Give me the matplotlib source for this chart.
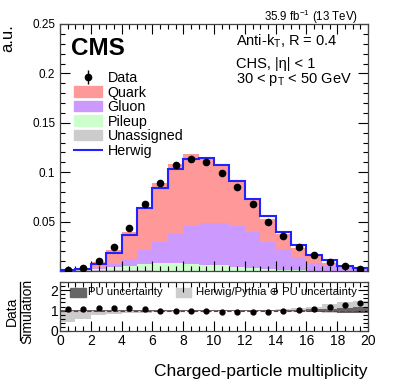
import numpy as np
import matplotlib
matplotlib.use("Agg")
import matplotlib.pyplot as plt
from matplotlib.ticker import MultipleLocator, FixedLocator
from matplotlib.patches import Rectangle
from matplotlib.lines import Line2D

plt.rcParams['font.family'] = ['Liberation Sans', 'DejaVu Sans']
plt.rcParams['mathtext.fontset'] = 'custom'
plt.rcParams['mathtext.rm'] = 'Liberation Sans'
plt.rcParams['mathtext.it'] = 'Liberation Sans:italic'

# ---------------- data ----------------
edges = np.arange(0, 21, 1)
centers = edges[:-1] + 0.5

data = [0.00077, 0.003, 0.010, 0.024, 0.044, 0.068, 0.089, 0.107, 0.113, 0.110,
        0.0996, 0.0847, 0.0678, 0.050, 0.0356, 0.0244, 0.016, 0.0095, 0.005, 0.0023]
data_err = [0.0002, 0.0003, 0.0005, 0.0007, 0.0009, 0.001, 0.001, 0.001, 0.001, 0.001,
            0.001, 0.001, 0.001, 0.0009, 0.0008, 0.0006, 0.0005, 0.0004, 0.0003, 0.0002]

unassigned = [0.0003, 0.0006, 0.0008, 0.0008, 0.0007, 0.0006, 0.0005, 0.0005, 0.0004, 0.0004,
              0.0003, 0.0003, 0.0003, 0.0002, 0.0002, 0.0002, 0.0001, 0.0001, 0.0001, 0.0001]
pileup = [0.0002, 0.0010, 0.0015, 0.0032, 0.0040, 0.0062, 0.0072, 0.0080, 0.0066, 0.0060,
          0.0057, 0.0037, 0.0025, 0.0015, 0.0010, 0.0005, 0.0003, 0.0002, 0.0001, 0.0001]
gluon = [0.0001, 0.0003, 0.0012, 0.0028, 0.0073, 0.0142, 0.0213, 0.0295, 0.0387, 0.0426,
         0.0430, 0.0417, 0.0362, 0.0278, 0.0208, 0.0135, 0.0081, 0.0047, 0.0032, 0.0013]
quark = [0.0001, 0.0009, 0.0052, 0.0142, 0.0270, 0.0430, 0.0600, 0.0700, 0.0723, 0.0660,
         0.0570, 0.0453, 0.0340, 0.0235, 0.0150, 0.0093, 0.0065, 0.0031, 0.0006, 0.0002]
herwig = [0.0006, 0.002, 0.0074, 0.018, 0.036, 0.064, 0.084, 0.103, 0.113, 0.114,
          0.107, 0.091, 0.073, 0.056, 0.039, 0.026, 0.016, 0.011, 0.005, 0.003]

pu_lo = [0.97, 0.97, 0.97, 0.97, 0.97, 0.97, 0.97, 0.97, 0.97, 0.97,
         0.97, 0.97, 0.97, 0.97, 0.97, 0.96, 0.94, 0.92, 0.90, 0.90]
pu_hi = [1.03, 1.03, 1.03, 1.03, 1.03, 1.03, 1.03, 1.03, 1.03, 1.03,
         1.03, 1.03, 1.03, 1.03, 1.03, 1.05, 1.07, 1.10, 1.15, 1.18]
tot_lo = [0.45, 0.60, 0.80, 0.83, 0.88, 0.90, 0.93, 0.95, 0.96, 0.96,
          0.97, 0.97, 0.97, 0.97, 0.97, 0.95, 0.93, 0.90, 0.88, 0.88]
tot_hi = [1.03, 1.03, 1.03, 1.03, 1.03, 1.03, 1.03, 1.03, 1.03, 1.03,
          1.03, 1.03, 1.03, 1.05, 1.10, 1.15, 1.20, 1.30, 1.40, 1.45]

xticks = [0, 2, 4, 6, 8, 10, 12, 14, 16, 18, 20]
yticks_main = [0.05, 0.1, 0.15, 0.2, 0.25]
ytick_labels_main = ['0.05', '0.1', '0.15', '0.2', '0.25']

# ---------------- figure ----------------
W, H = 399, 387
fig = plt.figure(figsize=(W / 100, H / 100), dpi=100)

def frac(x0, y0, x1, y1):
    return [x0 / W, 1 - y1 / H, (x1 - x0) / W, (y1 - y0) / H]

ax = fig.add_axes(frac(60, 24, 368, 271))
rax = fig.add_axes(frac(60, 282, 368, 331), sharex=ax)

# stacked simulation
c_un = '#cccccc'
c_pu = '#ccffcc'
c_gl = '#cc99ff'
c_qk = '#ff9999'
b0 = np.zeros(20)
b1 = b0 + np.array(unassigned)
b2 = b1 + np.array(pileup)
b3 = b2 + np.array(gluon)
b4 = b3 + np.array(quark)
ax.stairs(b1, edges, baseline=b0, fill=True, color=c_un, lw=0)
ax.stairs(b2, edges, baseline=b1, fill=True, color=c_pu, lw=0)
ax.stairs(b3, edges, baseline=b2, fill=True, color=c_gl, lw=0)
ax.stairs(b4, edges, baseline=b3, fill=True, color=c_qk, lw=0)
ax.stairs(herwig, edges, color='#2222ff', lw=1.5, zorder=3)
ax.errorbar(centers, data, yerr=data_err, fmt='o', color='black', ms=4.5,
            elinewidth=1, capsize=0, zorder=4)

ax.set_xlim(0, 20)
ax.set_ylim(0, 0.25)
ax.yaxis.set_major_locator(FixedLocator(yticks_main))
ax.set_yticklabels(ytick_labels_main)
ax.yaxis.set_minor_locator(MultipleLocator(0.01))
ax.xaxis.set_major_locator(FixedLocator(xticks))
ax.xaxis.set_minor_locator(MultipleLocator(0.5))
ax.tick_params(which='both', direction='in', top=True, right=True, labelbottom=False,
               labelsize=8.5, width=0.8)
ax.tick_params(which='major', length=7)
ax.tick_params(which='minor', length=3.5)
for s in ax.spines.values():
    s.set_linewidth(0.9)
    s.set_color('#444444')

ax.set_ylabel('a.u.', fontsize=12, loc='top', labelpad=12)

# texts
fig.text(358 / W, 1 - 20.5 / H, r'35.9 fb$^{\mathregular{-1}}$ (13 TeV)', ha='right',
         va='baseline', fontsize=8.3)
ax.text(0.035, 0.899, 'CMS', transform=ax.transAxes, fontsize=17.5, fontweight='bold',
        va='center', ha='left')
ax.text(0.57, 0.911, r'Anti-k$_{\mathregular{T}}$, R = 0.4', transform=ax.transAxes,
        fontsize=10.5, va='baseline')
ax.text(0.57, 0.822, r'CHS, |η| < 1', transform=ax.transAxes, fontsize=10.5, va='baseline')
ax.text(0.57, 0.762, r'30 < p$_{\mathregular{T}}$ < 50 GeV', transform=ax.transAxes,
        fontsize=10.5, va='baseline')

# legend
handles = [
    ax.errorbar([], [], yerr=[], fmt='o', color='black', ms=4.5, elinewidth=1),
    Rectangle((0, 0), 1, 1, color=c_qk),
    Rectangle((0, 0), 1, 1, color=c_gl),
    Rectangle((0, 0), 1, 1, color=c_pu),
    Rectangle((0, 0), 1, 1, color=c_un),
    Line2D([], [], color='#2222ff', lw=1.5),
]
labels = ['Data', 'Quark', 'Gluon', 'Pileup', 'Unassigned', 'Herwig']
ax.legend(handles, labels, loc='upper left', bbox_to_anchor=(0.045, 0.81), frameon=False,
          fontsize=10.3, handlelength=2.0, handleheight=0.75, labelspacing=0.04,
          handletextpad=0.35, borderpad=0, borderaxespad=0)

# ratio panel
ratio = np.array(data) / b4
rax.stairs(tot_hi, edges, baseline=tot_lo, fill=True, color='#cccccc', lw=0)
rax.stairs(pu_hi, edges, baseline=pu_lo, fill=True, color='#666666', lw=0)
rax.axhline(1, color='red', lw=0.8, ls=(0, (4, 2)))
rax.plot(centers, ratio, 'o', color='black', ms=3.5, zorder=4)
rax.set_ylim(0, 2.4)
rax.set_xlim(0, 20)
rax.yaxis.set_major_locator(FixedLocator([0, 1, 2]))
rax.yaxis.set_minor_locator(MultipleLocator(0.2))
rax.xaxis.set_major_locator(FixedLocator(xticks))
rax.xaxis.set_minor_locator(MultipleLocator(0.5))
rax.tick_params(which='both', direction='in', top=True, right=True, labelsize=10, width=0.8)
rax.tick_params(axis='x', which='major', length=7, pad=2)
rax.tick_params(axis='y', which='major', length=7, pad=1)
rax.tick_params(which='minor', length=3.5)
for s in rax.spines.values():
    s.set_linewidth(0.9)
    s.set_color('#444444')

# ratio legend
rax.add_patch(Rectangle((0.033, 0.70), 0.05, 0.18, transform=rax.transAxes, color='#666666'))
rax.text(0.09, 0.79, 'PU uncertainty', transform=rax.transAxes, fontsize=8.2, va='center')
rax.add_patch(Rectangle((0.375, 0.70), 0.05, 0.18, transform=rax.transAxes, color='#cccccc'))
rax.text(0.44, 0.79, 'Herwig/Pythia ⊕ PU uncertainty', transform=rax.transAxes,
         fontsize=8.2, va='center')

# ratio y label as fraction
fig.text(12 / W, 1 - 311 / H, 'Data', rotation=90, ha='center', va='center', fontsize=10)
fig.text(27 / W, 1 - 311 / H, 'Simulation', rotation=90, ha='center', va='center', fontsize=10)
fig.add_artist(Line2D([19.5 / W, 19.5 / W], [1 - 340 / H, 1 - 282 / H], color='black', lw=0.9))

rax.set_xlabel('Charged-particle multiplicity', fontsize=12.5, loc='right', labelpad=12)

fig.savefig('out.png', dpi=100)
